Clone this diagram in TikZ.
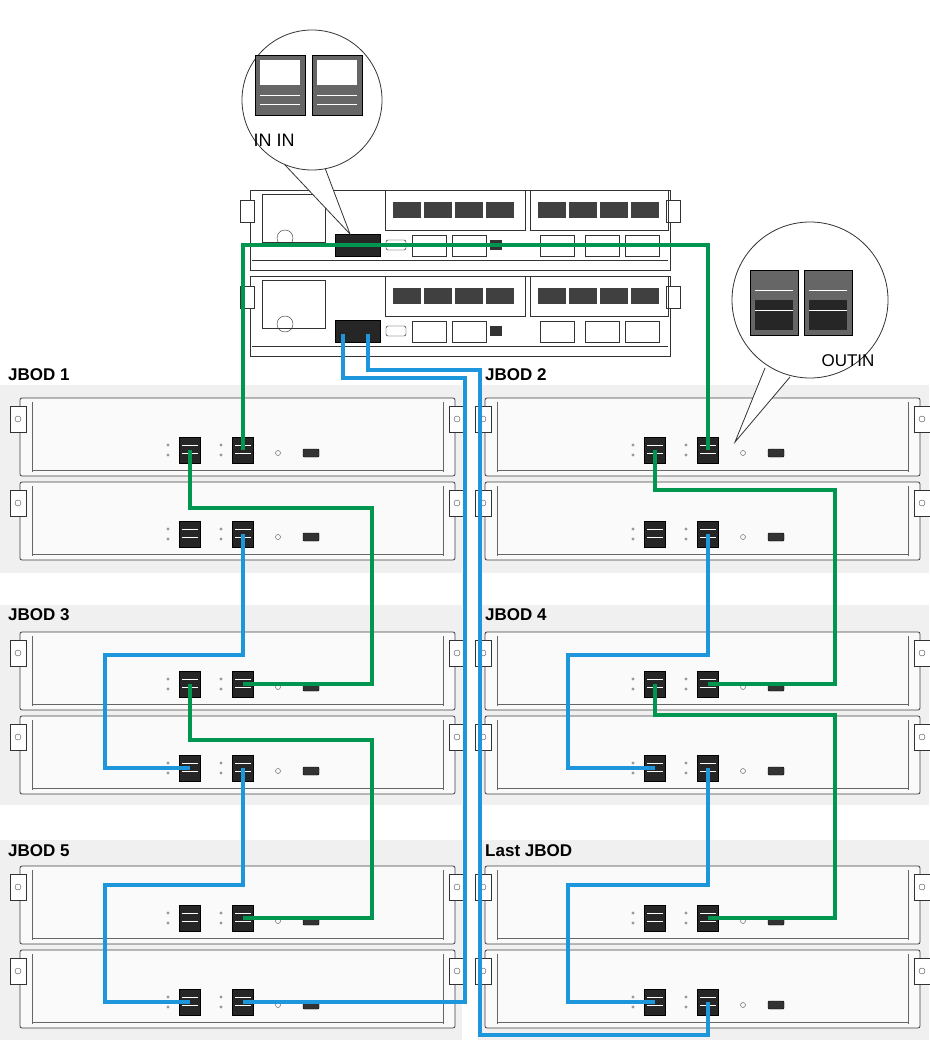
\documentclass[tikz,border=0pt]{standalone}
\usepackage{fontspec}
\setmainfont{Liberation Sans}
\begin{document}
\begin{tikzpicture}[x=1pt,y=-1pt,
  panel/.style={fill=black!6,draw=none},
  unitbox/.style={draw=black!75,line width=0.8pt,fill=black!2,rounded corners=2pt},
  port/.style={draw=black,fill=black!85,minimum width=21pt,minimum height=26pt,inner sep=0pt,line width=0.6pt},
  gc/.style={draw={rgb,255:red,0;green,150;blue,80},line width=3.5pt},
  bc/.style={draw={rgb,255:red,30;green,150;blue,220},line width=3.5pt},
  lab/.style={font=\bfseries\fontsize{17}{17}\selectfont,anchor=base west,inner sep=0pt},
  ctl/.style={draw=black!80,line width=0.8pt,fill=white}]
\useasboundingbox (0,0) rectangle (929,1040);
\fill[white] (0,0) rectangle (929,1040);
% panels
\fill[panel] (0,385) rectangle (462,573);
\fill[panel] (478,385) rectangle (929,573);
\fill[panel] (0,605) rectangle (462,805);
\fill[panel] (478,605) rectangle (929,805);
\fill[panel] (0,840) rectangle (462,1040);
\fill[panel] (478,840) rectangle (929,1040);
% unit macro
\newcommand\junit[3]{%
  \begin{scope}[shift={(#2,#3)}]
  \draw[unitbox] (0,0) rectangle (435,78);
  \draw[black!60] (12,4) -- (12,74) (423,4) -- (423,74) (12,72) -- (423,72);
  \draw[black!80,fill=white] (-10,8) rectangle (6,34);
  \draw[black!80,fill=white] (429,8) rectangle (445,34);
  \draw[black!70] (-2,21) circle (3pt) (437,21) circle (3pt);
  \node[port] (#1a) at (170,52) {};
  \node[port] (#1b) at (223,52) {};
  \foreach \px in {170,223}{\draw[white,line width=1pt] (\px-8,47) -- (\px+8,47) (\px-8,55) -- (\px+8,55);
    \fill[black!40] (\px-22,47) circle (1.6pt) (\px-22,57) circle (1.6pt);}
  \draw[black!70] (258,55) circle (2.5pt);
  \draw[black,fill=black!80,rounded corners=1pt] (283,51) rectangle (299,59);
  \end{scope}}
\junit{jau}{20}{398}\junit{jal}{20}{482}
\junit{jbu}{485}{398}\junit{jbl}{485}{482}
\junit{jcu}{20}{632}\junit{jcl}{20}{716}
\junit{jdu}{485}{632}\junit{jdl}{485}{716}
\junit{jeu}{20}{866}\junit{jel}{20}{950}
\junit{jfu}{485}{866}\junit{jfl}{485}{950}
% controllers
\newcommand\cunit[2]{%
  \begin{scope}[shift={(240,#2)}]
  \draw[ctl] (10,0) rectangle (430,80);
  \draw[black!80,fill=white] (0,10) rectangle (14,32); \draw[black!80,fill=white] (426,10) rectangle (440,32);
  \draw[black!80] (22,4) rectangle (85,52);
  \draw[black!80] (12,70) -- (428,70);
  \draw[black!80] (45,48) circle (8pt);
  \draw[black!80] (145,0) rectangle (285,40); \draw[black!80] (290,0) rectangle (428,40);
  \foreach \i in {0,1,2,3}{\fill[black!75] (153+\i*31,12) rectangle (181+\i*31,28);
     \fill[black!75] (298+\i*31,12) rectangle (326+\i*31,28);}
  \draw[black,fill=black!85] (95,44) rectangle (140,66);
  \coordinate (#1p1) at (103,58); \coordinate (#1p2) at (128,58);
  \draw[black,rounded corners=2pt] (146,50) rectangle (166,60);
  \foreach \xx in {172,212,300,345,385}{\draw[black!80] (\xx,45) rectangle (\xx+34,66);}
  \fill[black!80] (250,50) rectangle (262,60);
  \end{scope}}
\cunit{ca}{190}\cunit{cb}{276}
% callouts
\draw[black!80,fill=white,line width=0.8pt] (285,165) -- (350,234) -- (325,168);
\draw[black!80,fill=white,line width=0.8pt] (312,100) circle (70);
\draw[black,fill=black!60] (255,55) rectangle (305,115); \draw[black,fill=black!60] (312,55) rectangle (362,115);
\foreach \xx in {255,312}{\fill[white] (\xx+5,60) rectangle (\xx+45,85); \draw[white] (\xx+5,95) -- (\xx+45,95) (\xx+5,104) -- (\xx+45,104);}
\node[anchor=base west,font=\fontsize{18}{18}\selectfont] (inin) at (250,147) {IN IN};
\draw[black!80,fill=white,line width=0.8pt] (765,368) -- (735,442) -- (790,377);
\draw[black!80,fill=white,line width=0.8pt] (810,300) circle (78);
\draw[black,fill=black!60] (750,270) rectangle (798,335); \draw[black,fill=black!60] (804,270) rectangle (852,335);
\foreach \xx in {750,804}{\fill[black!85] (\xx+5,300) rectangle (\xx+43,330); \draw[white] (\xx+5,290) -- (\xx+43,290) (\xx+5,310) -- (\xx+43,310);}
\node[anchor=base west,font=\fontsize{17}{17}\selectfont] (outin) at (818,366) {OUTIN};
% labels
\node[lab] at (8,380) {JBOD 1};
\node[lab] at (485,380) {JBOD 2};
\node[lab] at (8,620) {JBOD 3};
\node[lab] at (485,620) {JBOD 4};
\node[lab] at (8,856) {JBOD 5};
\node[lab] at (485,856) {Last JBOD};
% cables
\coordinate (g0) at (355,245);
\draw[gc] (jaub.center) |- (g0) -| (jbub.center);
\draw[gc] (jaua.center) |- (372,508) |- (jcub.center);
\draw[gc] (jcua.center) |- (372,740) |- (jeub.center);
\draw[gc] (jbua.center) |- (835,490) |- (jdub.center);
\draw[gc] (jdua.center) |- (835,715) |- (jfub.center);
\draw[bc] (jalb.center) |- (105,655) |- (jcla.center);
\draw[bc] (jclb.center) |- (105,885) |- (jela.center);
\draw[bc] (jblb.center) |- (568,655) |- (jdla.center);
\draw[bc] (jdlb.center) |- (568,885) |- (jfla.center);
\draw[bc] (cbp1) |- (465,378) |- (jelb.center);
\draw[bc] (cbp2) |- (480,370) |- (708,1035) -- (jflb.center);
\end{tikzpicture}
\end{document}
